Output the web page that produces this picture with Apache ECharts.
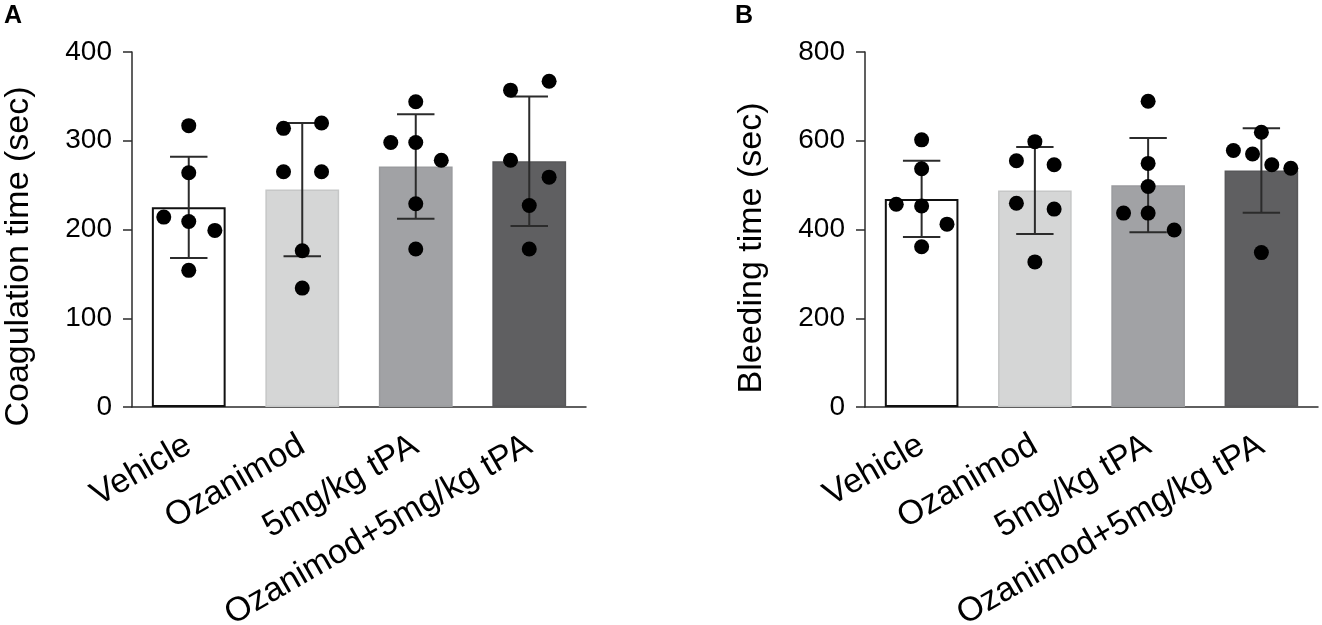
<!DOCTYPE html>
<html>
<head>
<meta charset="utf-8" />
<script src="https://cdn.jsdelivr.net/npm/echarts@6/dist/echarts.min.js"></script>
<style>
  html, body { margin: 0; padding: 0; background: #fff; }
  #main { width: 1322px; height: 625px; }
</style>
</head>
<body>
<div id="main"></div>
<script type="text/javascript">
// groups on the x axis
var groups = ['Vehicle', 'Ozanimod', '5mg/kg tPA', 'Ozanimod+5mg/kg tPA'];
var barColors = ['#ffffff', '#d5d6d6', '#a1a2a5', '#5f5f61'];
var barBorders = ['#111111', '#c6c7c7', '#9a9b9e', '#58585a'];

// A: coagulation time (sec)
var coagMean = [225, 245, 271, 277];
var coagSd = [57, 75, 59, 73];
var coagPoints = [
    [317, 264, 214, 209, 199, 154],
    [314, 320, 265, 265, 176, 134],
    [344, 298, 298, 278, 229, 178],
    [357, 367, 278, 259, 227, 178]
];
// horizontal scatter of the dots, in fractions of a category
var coagJitter = [
    [0, 0, -0.22, 0, 0.23, 0],
    [-0.165, 0.17, -0.165, 0.17, 0, 0],
    [0, -0.22, 0, 0.225, 0, 0],
    [-0.165, 0.175, -0.165, 0.175, 0, 0]
];

// B: bleeding time (sec)
var bleedMean = [469, 488, 500, 533];
var bleedSd = [86, 98, 106, 95];
var bleedPoints = [
    [602, 537, 457, 453, 412, 361],
    [598, 555, 546, 459, 446, 327],
    [689, 549, 497, 437, 437, 399],
    [619, 578, 570, 546, 538, 348]
];
var bleedJitter = [
    [0, 0, -0.224, 0, 0.224, 0],
    [0, -0.163, 0.17, -0.163, 0.17, 0],
    [0, 0, 0, -0.217, 0, 0.23],
    [0, -0.247, -0.078, 0.092, 0.26, 0]
];

var FONT = '"Liberation Sans", Arial, sans-serif';

function barData(mean) {
    return mean.map(function (v, i) {
        return {
            value: v,
            itemStyle: { color: barColors[i], borderColor: barBorders[i], borderWidth: i === 0 ? 2 : 1.5 }
        };
    });
}
function errData(mean, sd) {
    return mean.map(function (v, i) { return { value: [i, v - sd[i], v + sd[i]] }; });
}
function dotData(points, jitter) {
    var out = [];
    points.forEach(function (grp, i) {
        grp.forEach(function (v, j) { out.push([i + jitter[i][j], v]); });
    });
    return out;
}
function renderErr(params, api) {
    var x = api.value(0);
    var lo = api.coord([x, api.value(1)]);
    var hi = api.coord([x, api.value(2)]);
    var half = api.size([1, 0])[0] * 0.165;
    var st = { stroke: '#2b2b2b', lineWidth: 2 };
    return {
        type: 'group',
        children: [
            { type: 'line', shape: { x1: lo[0], y1: lo[1], x2: hi[0], y2: hi[1] }, style: st },
            { type: 'line', shape: { x1: lo[0] - half, y1: lo[1], x2: lo[0] + half, y2: lo[1] }, style: st },
            { type: 'line', shape: { x1: hi[0] - half, y1: hi[1], x2: hi[0] + half, y2: hi[1] }, style: st }
        ]
    };
}

function catAxis(gi) {
    return {
        type: 'category', gridIndex: gi, data: groups,
        axisLine: { onZero: false, lineStyle: { color: '#2b2b2b', width: 1.5 } },
        axisTick: { alignWithLabel: true, length: 10, lineStyle: { color: '#2b2b2b', width: 1.5 } },
        axisLabel: { rotate: 30, interval: 0, margin: 36, fontSize: 34, color: '#000', fontFamily: FONT }
    };
}
function hiddenX(gi) {
    return { type: 'value', gridIndex: gi, min: -0.5, max: 3.5, show: false, axisLine: { onZero: false } };
}
function valAxis(gi, max, step, name, shift) {
    return {
        type: 'value', gridIndex: gi, min: 0, max: max, interval: step,
        name: name, nameLocation: 'middle', nameRotate: 90, nameGap: 96,
        nameTextStyle: { fontSize: 34, color: '#000', fontFamily: FONT, padding: [0, shift, 0, 0] },
        splitLine: { show: false },
        axisLine: { show: true, onZero: false, lineStyle: { color: '#2b2b2b', width: 1.5 } },
        axisTick: { show: true, length: 9, lineStyle: { color: '#2b2b2b', width: 1.5 } },
        axisLabel: { fontSize: 28, color: '#000', margin: 20, fontFamily: FONT }
    };
}

var myChart = echarts.init(document.getElementById('main'));
myChart.setOption({
    animation: false,
    textStyle: { fontFamily: FONT },
    graphic: [
        { type: 'text', left: 4, top: 4, style: { text: 'A', fontSize: 25, fontWeight: 'bold', fill: '#000', fontFamily: FONT } },
        { type: 'text', left: 735, top: 4, style: { text: 'B', fontSize: 25, fontWeight: 'bold', fill: '#000', fontFamily: FONT } }
    ],
    grid: [
        { left: 132, top: 52, width: 454, height: 355, containLabel: false, outerBoundsMode: 'none' },
        { left: 865, top: 52, width: 453, height: 355, containLabel: false, outerBoundsMode: 'none' }
    ],
    xAxis: [catAxis(0), hiddenX(0), catAxis(1), hiddenX(1)],
    yAxis: [
        valAxis(0, 400, 100, 'Coagulation time (sec)', 54),
        valAxis(1, 800, 200, 'Bleeding time (sec)', 37)
    ],
    series: [
        { type: 'bar', xAxisIndex: 0, yAxisIndex: 0, barWidth: '65%', data: barData(coagMean) },
        { type: 'custom', xAxisIndex: 1, yAxisIndex: 0, encode: { x: 0, y: [1, 2] }, renderItem: renderErr, data: errData(coagMean, coagSd), z: 3 },
        { type: 'scatter', xAxisIndex: 1, yAxisIndex: 0, symbolSize: 15, itemStyle: { color: '#000', opacity: 1 }, data: dotData(coagPoints, coagJitter), z: 4 },
        { type: 'bar', xAxisIndex: 2, yAxisIndex: 1, barWidth: '65%', data: barData(bleedMean) },
        { type: 'custom', xAxisIndex: 3, yAxisIndex: 1, encode: { x: 0, y: [1, 2] }, renderItem: renderErr, data: errData(bleedMean, bleedSd), z: 3 },
        { type: 'scatter', xAxisIndex: 3, yAxisIndex: 1, symbolSize: 15, itemStyle: { color: '#000', opacity: 1 }, data: dotData(bleedPoints, bleedJitter), z: 4 }
    ]
});
</script>
</body>
</html>
